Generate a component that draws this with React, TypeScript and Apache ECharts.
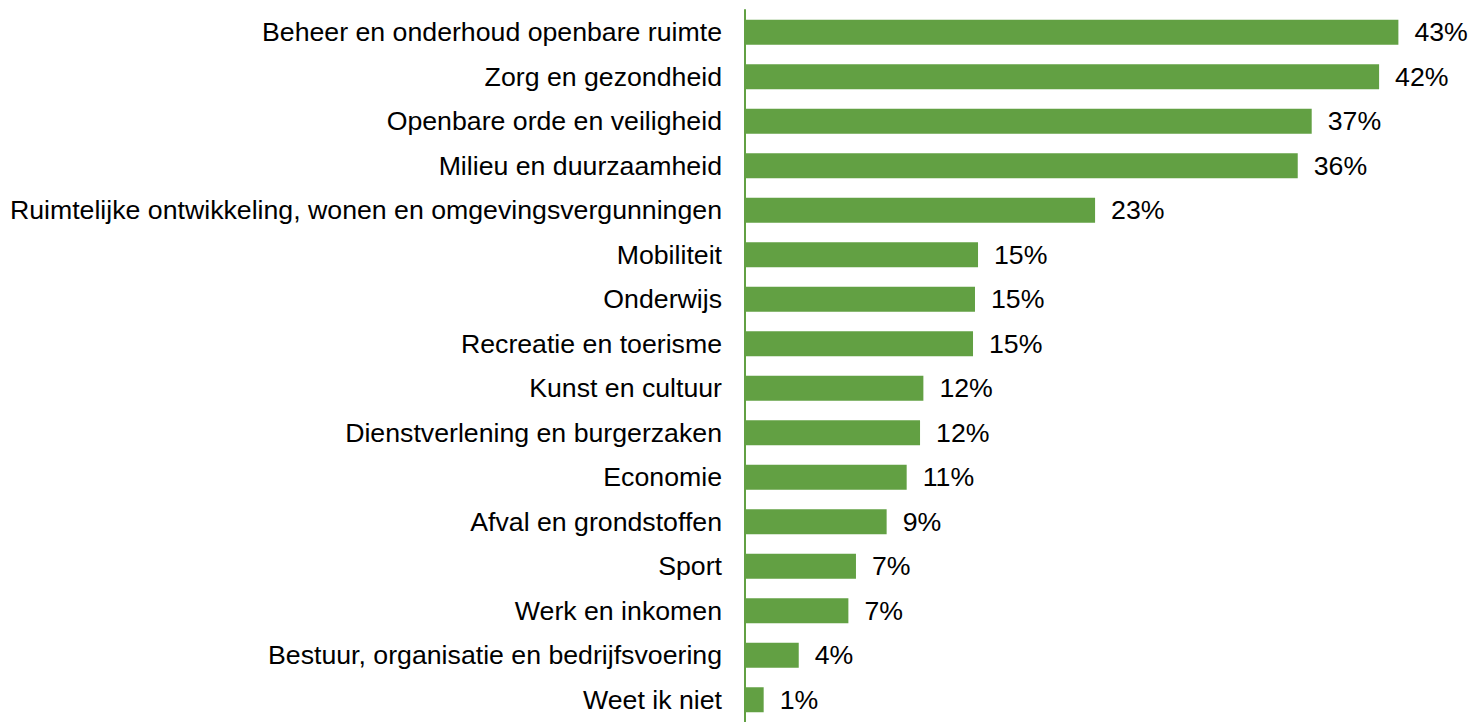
import React, { useEffect, useRef } from "react";
import * as echarts from "echarts";

const categories: string[] = [
  "Beheer en onderhoud openbare ruimte",
  "Zorg en gezondheid",
  "Openbare orde en veiligheid",
  "Milieu en duurzaamheid",
  "Ruimtelijke ontwikkeling, wonen en omgevingsvergunningen",
  "Mobiliteit",
  "Onderwijs",
  "Recreatie en toerisme",
  "Kunst en cultuur",
  "Dienstverlening en burgerzaken",
  "Economie",
  "Afval en grondstoffen",
  "Sport",
  "Werk en inkomen",
  "Bestuur, organisatie en bedrijfsvoering",
  "Weet ik niet",
];

const percentages: number[] = [
  43.04, 41.77, 37.33, 36.41, 23.06, 15.35, 15.15, 15.02, 11.75, 11.53, 10.65,
  9.33, 7.31, 6.81, 3.54, 1.23,
];

const GREEN = "#62A043";
const FONT = "'Liberation Sans', Arial, Helvetica, sans-serif";

export default function App() {
  const ref = useRef<HTMLDivElement>(null);

  useEffect(() => {
    if (!ref.current) return;
    const chart = echarts.init(ref.current, null, { renderer: "svg" });
    chart.setOption({
      animation: false,
      backgroundColor: "#ffffff",
      grid: { left: 745, top: 10, width: 713.5, height: 718, containLabel: false },
      xAxis: {
        type: "value",
        min: 0,
        max: 47,
        show: false,
      },
      yAxis: {
        type: "category",
        data: categories,
        inverse: true,
        axisLine: { show: true, lineStyle: { color: GREEN, width: 2 } },
        axisTick: { show: false },
        axisLabel: {
          margin: 23,
          fontSize: 26.7,
          color: "#000000",
          fontFamily: FONT,
          padding: [2, 0, 0, 0],
        },
        splitLine: { show: false },
      },
      series: [
        {
          type: "bar",
          data: percentages,
          barWidth: 25,
          itemStyle: { color: GREEN },
          label: {
            show: true,
            position: "right",
            distance: 16,
            fontSize: 26.7,
            color: "#000000",
            fontFamily: FONT,
            padding: [2, 0, 0, 0],
            formatter: (p: any) => Math.round(p.value) + "%",
          },
        },
      ],
    });
    return () => chart.dispose();
  }, []);

  return (
    <div
      ref={ref}
      style={{ position: "absolute", left: 0, top: 0, width: 1470, height: 722 }}
    />
  );
}
